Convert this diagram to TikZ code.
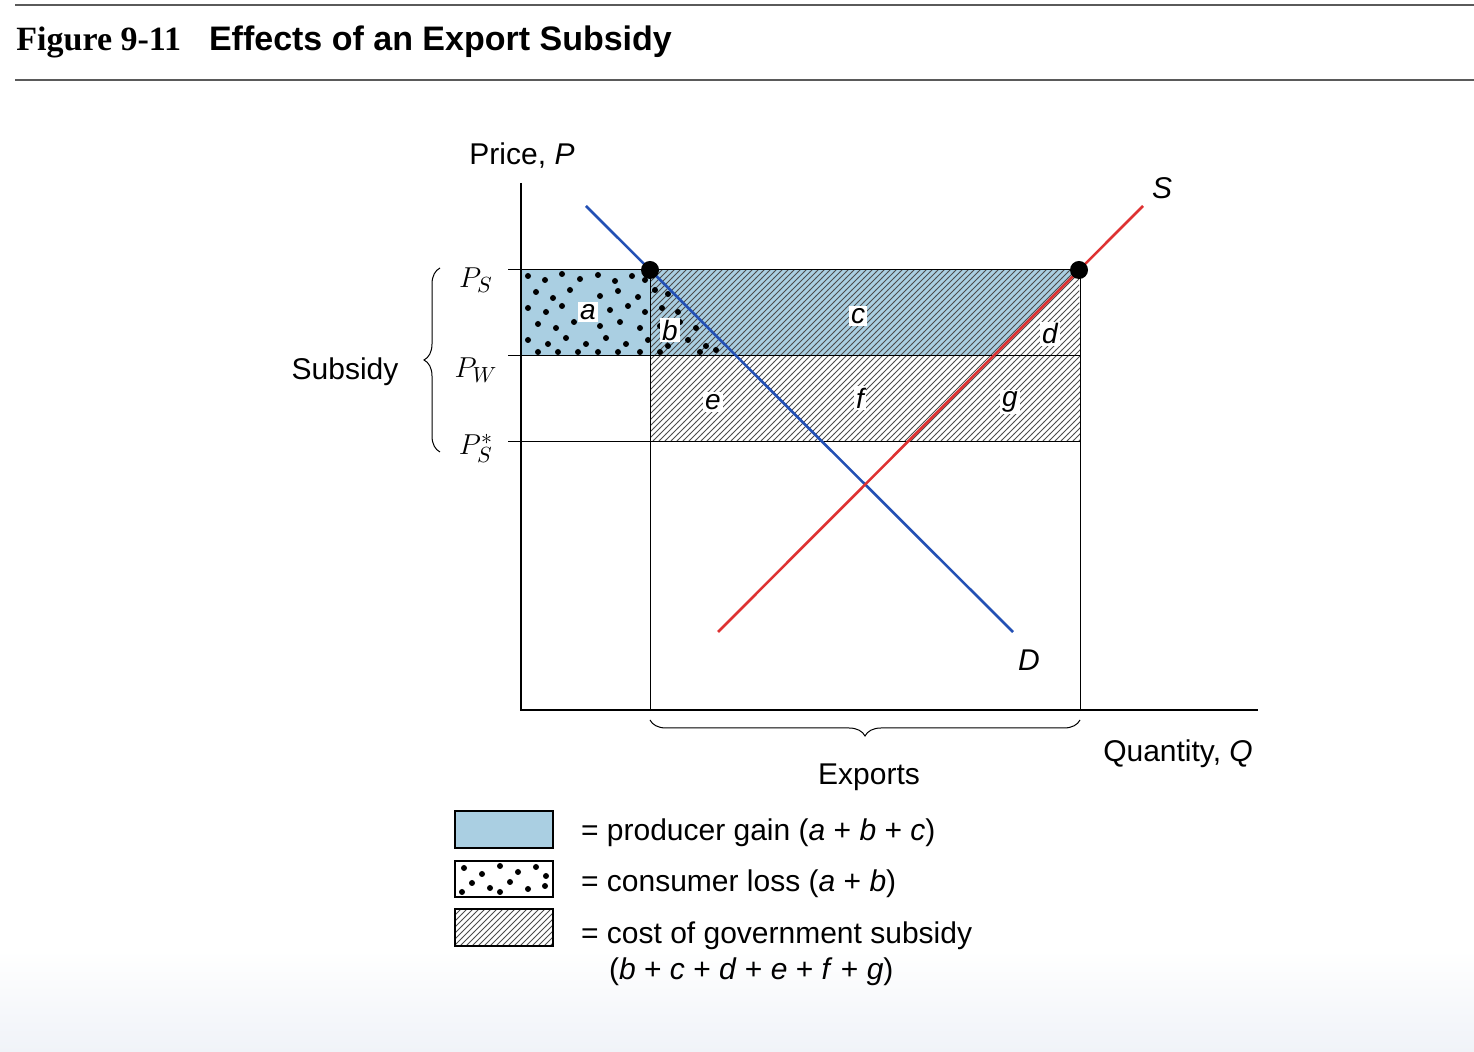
\documentclass[tikz,border=0pt]{standalone}
\usepackage{fontspec}
\setmainfont{Liberation Sans}
\newfontfamily\serifttl{Liberation Serif}
\usetikzlibrary{patterns,decorations.pathreplacing}
\definecolor{pblue}{RGB}{170,207,226}
\definecolor{dblue}{RGB}{35,80,180}
\definecolor{sred}{RGB}{222,50,50}
\definecolor{rulegray}{RGB}{90,90,90}
\tikzset{
 lab/.style={font=\fontsize{15}{17}\selectfont},
 reg/.style={fill=white,inner sep=1pt,font=\fontsize{14}{16}\selectfont\itshape},
 hatch/.style={pattern=north east lines,pattern color=black!70},
 pdot/.style={circle,fill=black,inner sep=0pt,minimum size=3pt},
}
\begin{document}
\begin{tikzpicture}[x=0.5pt,y=-0.5pt]
\useasboundingbox (0,0) rectangle (1474,1052);
\shade[top color=white,bottom color={rgb,255:red,240;green,243;blue,248}] (0,950) rectangle (1474,1052);
\draw[rulegray,line width=0.8pt] (15,5) -- (1474,5);
\draw[rulegray,line width=0.6pt] (15,80) -- (1474,80);
\node[anchor=west,inner sep=0] (ttl) at (16,42) {\fontsize{17}{19}\selectfont\serifttl\bfseries Figure 9-11\hspace{14pt}\fontspec{Liberation Sans}\bfseries Effects of an Export Subsidy};
% regions
\fill[pblue] (521,270) rectangle (650,356);
\fill[pblue] (650,270) -- (1079,270) -- (993,356) -- (650,356) -- cycle;
\fill[hatch] (650,270) -- (1079,270) -- (1080,356) -- (650,356) -- cycle;
\fill[hatch] (650,356) rectangle (1080,442);
\begin{scope}
\clip (521,270) -- (650,270) -- (736,356) -- (521,356) -- cycle;
\foreach \x/\y in {528/276,545/280,562/274,580/279,598/275,615/281,632/276,645/280,
 536/292,553/298,570/290,600/296,618/291,638/297,655/290,668/294,
 528/308,546/312,562/306,610/310,628/306,645/312,662/308,678/312,
 538/324,556/328,574/322,600/326,620/322,640/328,660/326,680/322,696/328,
 528/340,548/344,566/338,586/344,606/338,626/344,648/340,668/346,688/340,706/346,
 538/352,558/352,578/352,598/352,618/352,640/352,660/352,700/352,716/350}
 \node[pdot] at (\x,\y) {};
\end{scope}
\draw[line width=0.5pt] (521,270) -- (1079,270);
\draw[line width=0.5pt] (521,356) -- (1080,356);
\draw[line width=0.5pt] (521,442) -- (1080,442);
\draw[line width=0.5pt] (650,270) -- (650,710);
\draw[line width=0.5pt] (1080,270) -- (1080,710);
\foreach \y in {270,356,442} \draw[line width=0.5pt] (508,\y) -- (521,\y);
% axes
\coordinate (o) at (521,710);
\coordinate (ytop) at (521,183);
\coordinate (xend) at (1258,710);
\draw[line width=1.3pt] (ytop) -- (o) -- (xend);
% curves
\coordinate (d1) at (586,206); \coordinate (d2) at (1013,632);
\coordinate (s1) at (718,632); \coordinate (s2) at (1143,206);
\draw[dblue,line width=1.3pt] (d1) -- (d2);
\draw[sred,line width=1.3pt] (s1) -- (s2);
\fill (650,270) circle (4.5pt);
\fill (1079,270) circle (4.5pt);
% region labels
\node[reg] (la) at (588,312) {a};
\node[reg] (lb) at (670,330) {b};
\node[reg] (lc) at (858,316) {c};
\node[reg] (ld) at (1050,334) {d};
\node[reg] (le) at (713,402) {e};
\node[reg] (lf) at (860,398) {f};
\node[reg] (lg) at (1010,402) {g};
% axis labels
\node[lab] (py) at (522,156) {Price, \textit{P}};
\node[lab] (sl) at (1162,188) {\textit{S}};
\node[lab] (dl) at (1029,660) {\textit{D}};
\node[lab] (qx) at (1178,754) {Quantity, \textit{Q}};
\node[lab] (ps) at (476,280) {$P_S$};
\node[lab] (pw) at (476,370) {$P_W$};
\node[lab] (pss) at (476,448) {$P_S^*$};
\draw[decorate,decoration={brace,amplitude=8pt},line width=0.5pt] (440,452) -- (440,268);
\node[lab] (sub) at (345,372) {Subsidy};
\draw[decorate,decoration={brace,amplitude=8pt,mirror},line width=0.5pt] (650,720) -- (1080,720);
\node[lab] (ex) at (869,777) {Exports};
% legend
\fill[pblue] (455,811) rectangle (553,848);
\draw[line width=0.6pt] (455,811) rectangle (553,848);
\foreach \x/\y in {464/868,482/874,500/866,518/872,536/867,546/876,472/883,490/888,510/882,528/889,545/886,462/892,500/892}
 \node[pdot] at (\x,\y) {};
\draw[line width=0.6pt] (455,861) rectangle (553,897);
\fill[hatch] (455,909) rectangle (553,946);
\draw[line width=0.6pt] (455,909) rectangle (553,946);
\node[lab,anchor=west] (l1) at (574,833) {= producer gain (\textit{a} + \textit{b} + \textit{c})};
\node[lab,anchor=west] (l2) at (574,884) {= consumer loss (\textit{a} + \textit{b})};
\node[lab,anchor=west] (l3) at (574,936) {= cost of government subsidy};
\node[lab,anchor=west] (l4) at (602,972) {(\textit{b} + \textit{c} + \textit{d} + \textit{e} + \textit{f} + \textit{g})};
\end{tikzpicture}
\end{document}
